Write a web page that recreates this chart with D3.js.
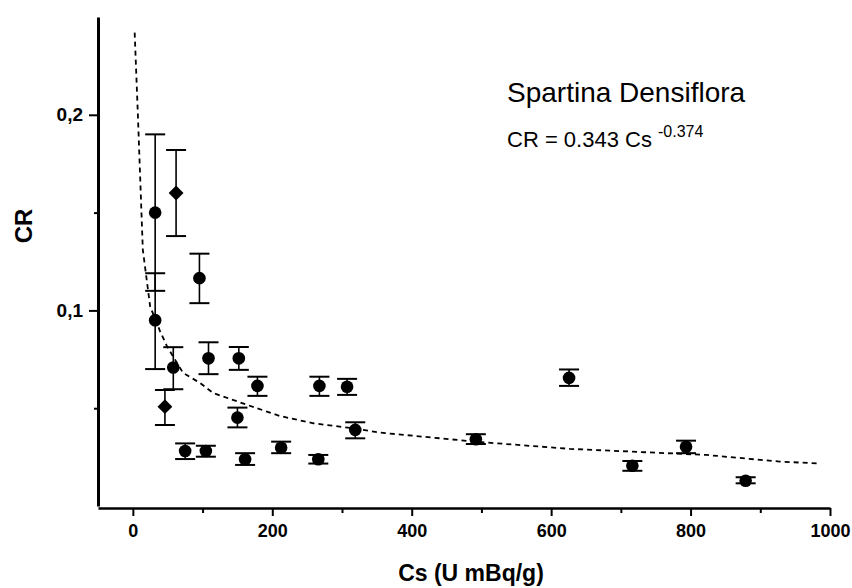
<!DOCTYPE html>
<html>
<head>
<meta charset="utf-8">
<script src="https://cdn.jsdelivr.net/npm/d3@7"></script>
<style>
  body { margin: 0; background: #fff; }
  svg { display: block; font-family: "Liberation Sans", Arial, sans-serif; }
  .axis path, .axis line { stroke: #000; }
  .axis text { font-weight: bold; fill: #000; }
</style>
</head>
<body>
<div id="chart"></div>
<script>
// measured points: Cs, CR, lower / upper end of error bar, marker shape
var cs    = [32, 32, 62, 95.5, 58, 46, 108.5, 152, 178.7, 150, 75, 104.7, 161, 212.7, 267.6, 307.3, 319, 266, 492, 625.7, 716.5, 793.5, 879];
var cr    = [0.150, 0.095, 0.160, 0.1165, 0.0708, 0.0508, 0.0755, 0.0755, 0.0614, 0.0452, 0.0281, 0.0281, 0.0239, 0.0298, 0.0614, 0.061, 0.0389, 0.0239, 0.0341, 0.0655, 0.0206, 0.0303, 0.0129];
var crLow = [0.110, 0.070, 0.138, 0.1037, 0.0597, 0.0414, 0.0674, 0.0696, 0.0563, 0.0402, 0.024, 0.0252, 0.021, 0.027, 0.0563, 0.0568, 0.0346, 0.0217, 0.0317, 0.0614, 0.018, 0.027, 0.0116];
var crHigh = [0.190, 0.119, 0.182, 0.129, 0.0812, 0.0593, 0.0837, 0.0813, 0.0661, 0.0503, 0.032, 0.0308, 0.027, 0.0329, 0.0661, 0.065, 0.0428, 0.0261, 0.0367, 0.0698, 0.023, 0.0334, 0.0147];
var shape = ["circle", "circle", "diamond", "circle", "circle", "diamond", "circle", "circle", "circle", "circle", "circle", "circle", "circle", "circle", "circle", "circle", "circle", "circle", "circle", "circle", "circle", "circle", "circle"];

// fitted curve
var fitCs = [2.6, 7.2, 14.3, 24.8, 39.2, 49.2, 72.1, 96.5, 115, 164, 211, 259, 316, 355, 491, 627, 823, 928, 986];
var fitCr = [0.242, 0.200, 0.131, 0.102, 0.0892, 0.0815, 0.0680, 0.0629, 0.0578, 0.0517, 0.0460, 0.0423, 0.0397, 0.0375, 0.0329, 0.0292, 0.0261, 0.0227, 0.0217];

var xMajor = [0, 200, 400, 600, 800, 1000];
var xMinor = [100, 300, 500, 700, 900];
var yMajor = [0.1, 0.2];
var yMinor = [0.05, 0.15];

var W = 852, H = 588;
var svg = d3.select('#chart').append('svg')
  .attr('width', W)
  .attr('height', H);

var x = d3.scaleLinear().domain([-50, 1000]).range([98, 830]);
var y = d3.scaleLinear().domain([0, 0.25]).range([506, 17]);
var axisY = 508;

// x axis
svg.append('g')
  .attr('class', 'axis')
  .attr('transform', 'translate(0,' + axisY + ')')
  .call(d3.axisBottom(x).tickValues(xMinor).tickSize(5).tickSizeOuter(0).tickFormat(''))
  .call(g => g.select('.domain').remove())
  .selectAll('line').attr('stroke-width', 2);

svg.append('g')
  .attr('class', 'axis')
  .attr('transform', 'translate(0,' + axisY + ')')
  .call(d3.axisBottom(x).tickValues(xMajor).tickSize(8).tickSizeOuter(0).tickPadding(8)
    .tickFormat(d3.format('d')))
  .call(g => g.select('.domain').attr('stroke-width', 2.6))
  .call(g => g.selectAll('.tick line').attr('stroke-width', 2))
  .selectAll('text').style('font-size', '18px');

// y axis
svg.append('g')
  .attr('class', 'axis')
  .attr('transform', 'translate(98,0)')
  .call(d3.axisLeft(y).tickValues(yMinor).tickSize(4).tickSizeOuter(0).tickFormat(''))
  .call(g => g.select('.domain').remove())
  .selectAll('line').attr('stroke-width', 2);

svg.append('g')
  .attr('class', 'axis')
  .attr('transform', 'translate(98,0)')
  .call(d3.axisLeft(y).tickValues(yMajor).tickSize(9).tickSizeOuter(0).tickPadding(6)
    .tickFormat(d => String(d).replace('.', ',')))
  .call(g => g.select('.domain').attr('stroke-width', 3))
  .call(g => g.selectAll('.tick line').attr('stroke-width', 2))
  .selectAll('text').style('font-size', '19px');

// axis titles
svg.append('text')
  .attr('x', 471)
  .attr('y', 581)
  .attr('text-anchor', 'middle')
  .style('font-size', '23px')
  .style('font-weight', 'bold')
  .text('Cs (U mBq/g)');

svg.append('text')
  .attr('transform', 'translate(32,226) rotate(-90)')
  .attr('text-anchor', 'middle')
  .style('font-size', '24px')
  .style('font-weight', 'bold')
  .text('CR');

// fitted curve
var line = d3.line()
  .x((d, i) => x(fitCs[i]))
  .y(d => y(d));

svg.append('path')
  .datum(fitCr)
  .attr('d', line)
  .attr('fill', 'none')
  .attr('stroke', '#000')
  .attr('stroke-width', 1.8)
  .attr('stroke-dasharray', '5,4');

// error bars
var pts = cs.map((c, i) => ({ cs: c, cr: cr[i], lo: crLow[i], hi: crHigh[i], shape: shape[i] }));
var capW = 10;

var bars = svg.append('g').selectAll('g')
  .data(pts)
  .enter().append('g');

bars.append('line')
  .attr('x1', d => x(d.cs)).attr('x2', d => x(d.cs))
  .attr('y1', d => y(d.lo)).attr('y2', d => y(d.hi))
  .attr('stroke', '#000').attr('stroke-width', 1.6);

bars.selectAll('.cap')
  .data(d => [[d.cs, d.lo], [d.cs, d.hi]])
  .enter().append('line')
  .attr('class', 'cap')
  .attr('x1', d => x(d[0]) - capW).attr('x2', d => x(d[0]) + capW)
  .attr('y1', d => y(d[1])).attr('y2', d => y(d[1]))
  .attr('stroke', '#000').attr('stroke-width', 2);

// markers
svg.append('g').selectAll('path')
  .data(pts)
  .enter().append('path')
  .attr('transform', d => 'translate(' + x(d.cs) + ',' + y(d.cr) + ')' + (d.shape === 'diamond' ? ' rotate(45)' : ''))
  .attr('d', d => d.shape === 'diamond'
    ? d3.symbol().type(d3.symbolSquare).size(110)()
    : d3.symbol().type(d3.symbolCircle).size(125)())
  .attr('fill', '#000');

// annotation
svg.append('text')
  .attr('x', 507)
  .attr('y', 102)
  .style('font-size', '28px')
  .text('Spartina Densiflora');

var eq = svg.append('text')
  .attr('x', 507)
  .attr('y', 147)
  .style('font-size', '22px');
eq.append('tspan').text('CR = 0.343 Cs ');
eq.append('tspan')
  .attr('dy', -10)
  .style('font-size', '16px')
  .text('-0.374');
</script>
</body>
</html>
